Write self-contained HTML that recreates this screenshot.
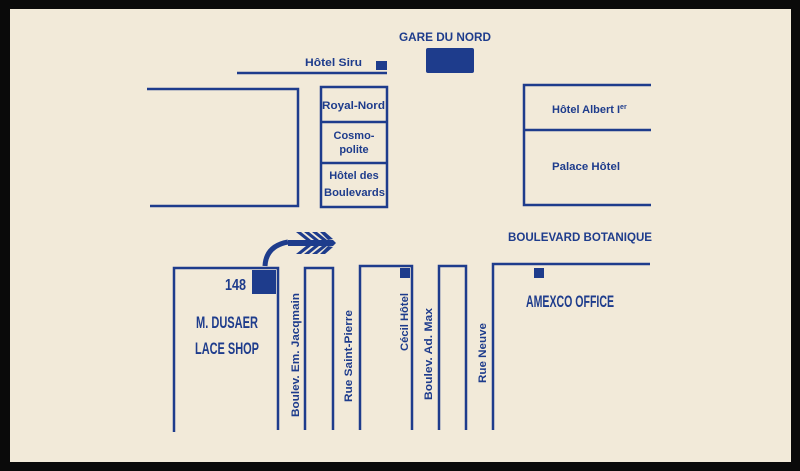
<!DOCTYPE html>
<html><head><meta charset="utf-8"><style>
html,body{margin:0;padding:0;background:#000;}
svg{display:block;}
text{font-family:"Liberation Sans",sans-serif;font-weight:bold;fill:#1e3c8c;}
</style></head><body>
<svg width="800" height="471" viewBox="0 0 800 471" xmlns="http://www.w3.org/2000/svg">
<rect x="0" y="0" width="800" height="471" fill="#0a0a0a"/>
<rect x="10" y="9" width="781" height="453" fill="#f2ead9"/>
<g stroke="#1e3c8c" stroke-width="2.5" fill="none">
<line x1="237" y1="73" x2="387" y2="73"/>
<polyline points="147,89 298,89 298,206 150,206"/>
<rect x="321" y="87" width="66" height="120"/>
<line x1="321" y1="122" x2="387" y2="122"/>
<line x1="321" y1="163" x2="387" y2="163"/>
<polyline points="651,85 524,85 524,205 651,205"/>
<line x1="524" y1="130" x2="651" y2="130"/>
<polyline points="174,432 174,268 278,268 278,430"/>
<polyline points="305,430 305,268 333,268 333,430"/>
<polyline points="360,430 360,266 412,266 412,430"/>
<polyline points="439,430 439,266 466,266 466,430"/>
<polyline points="493,430 493,264 650,264"/>
<path d="M265,266 Q266,246 288,242" stroke-width="5"/>
</g>
<g fill="#1e3c8c">
<rect x="426" y="48" width="48" height="25" rx="2"/>
<rect x="376" y="61" width="11" height="9"/>
<rect x="252" y="270" width="24" height="24"/>
<rect x="400" y="268" width="10" height="10"/>
<rect x="534" y="268" width="10" height="10"/>
<polygon points="288,240 333,240 336,243 333,246 288,246"/>
<polygon points="296,232 301,232 311,240 306,240"/>
<polygon points="304,232 309,232 319,240 314,240"/>
<polygon points="312,232 317,232 327,240 322,240"/>
<polygon points="320,232 325,232 333,239 328,240"/>
<polygon points="296,254 301,254 311,246 306,246"/>
<polygon points="304,254 309,254 319,246 314,246"/>
<polygon points="312,254 317,254 327,246 322,246"/>
<polygon points="320,254 325,254 333,247 328,246"/>
</g>
<g lengthAdjust="spacingAndGlyphs">
<text x="399" y="41" font-size="12" textLength="92" lengthAdjust="spacingAndGlyphs">GARE DU NORD</text>
<text x="305" y="66" font-size="11" textLength="57" lengthAdjust="spacingAndGlyphs">Hôtel Siru</text>
<text x="322" y="109" font-size="11" textLength="63" lengthAdjust="spacingAndGlyphs">Royal-Nord</text>
<text x="354" y="139" font-size="11" text-anchor="middle">Cosmo-</text>
<text x="354" y="153" font-size="11" text-anchor="middle">polite</text>
<text x="354" y="179" font-size="11" text-anchor="middle">Hôtel des</text>
<text x="324" y="196" font-size="11" textLength="61" lengthAdjust="spacingAndGlyphs">Boulevards</text>
<text x="552" y="113" font-size="11">Hôtel Albert I<tspan font-size="7" dy="-4">er</tspan></text>
<text x="552" y="170" font-size="11" textLength="68" lengthAdjust="spacingAndGlyphs">Palace Hôtel</text>
<text x="508" y="241" font-size="12" textLength="144" lengthAdjust="spacingAndGlyphs">BOULEVARD BOTANIQUE</text>
<text x="225" y="290" font-size="16" font-weight="normal" textLength="21" lengthAdjust="spacingAndGlyphs">148</text>
<text x="196" y="328" font-size="17" textLength="62" lengthAdjust="spacingAndGlyphs">M. DUSAER</text>
<text x="195" y="354" font-size="17" textLength="64" lengthAdjust="spacingAndGlyphs">LACE SHOP</text>
<text x="526" y="307" font-size="17" textLength="88" lengthAdjust="spacingAndGlyphs">AMEXCO OFFICE</text>
</g>
<g font-size="11">
<text transform="translate(299,355) rotate(-90)" text-anchor="middle" textLength="124" lengthAdjust="spacingAndGlyphs">Boulev. Em. Jacqmain</text>
<text transform="translate(352,356) rotate(-90)" text-anchor="middle" textLength="92" lengthAdjust="spacingAndGlyphs">Rue Saint-Pierre</text>
<text transform="translate(408,322) rotate(-90)" text-anchor="middle" textLength="58" lengthAdjust="spacingAndGlyphs">Cécil Hôtel</text>
<text transform="translate(432,354) rotate(-90)" text-anchor="middle" textLength="92" lengthAdjust="spacingAndGlyphs">Boulev. Ad. Max</text>
<text transform="translate(486,353) rotate(-90)" text-anchor="middle" textLength="60" lengthAdjust="spacingAndGlyphs">Rue Neuve</text>
</g>
</svg>
</body></html>
